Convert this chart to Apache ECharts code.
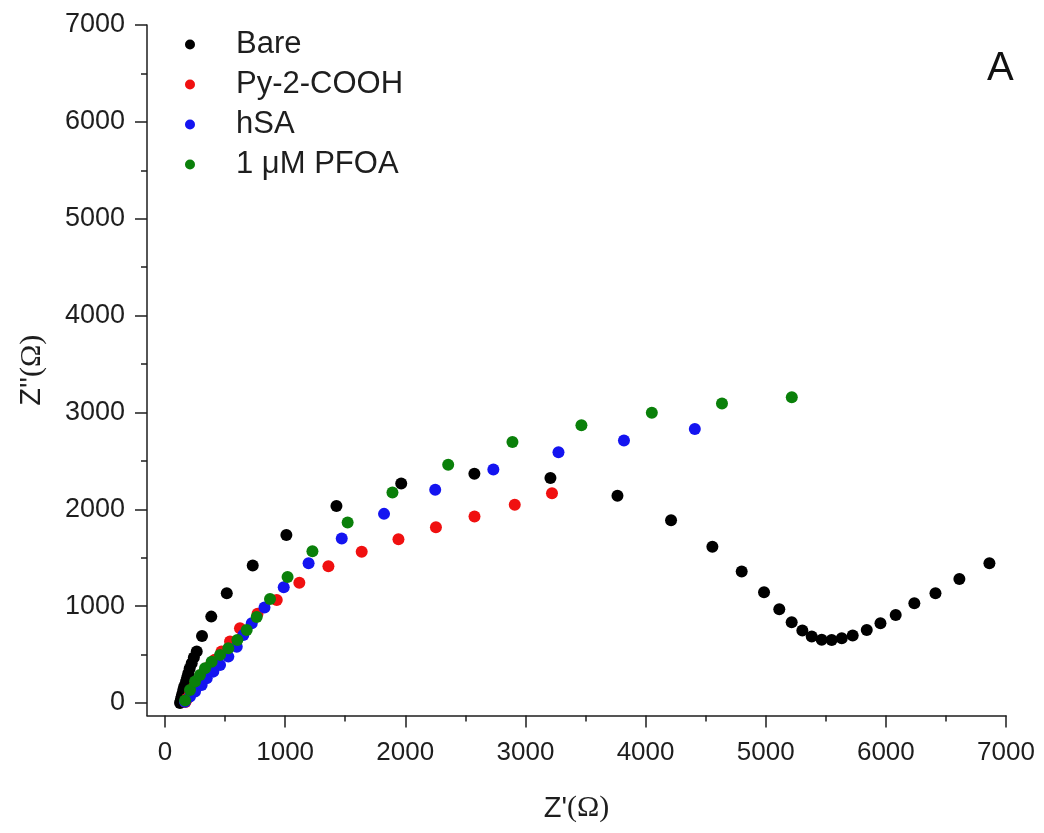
<!DOCTYPE html>
<html>
<head>
<meta charset="utf-8">
<script src="https://cdn.jsdelivr.net/npm/echarts@6/dist/echarts.min.js"></script>
<style>html,body{margin:0;padding:0;background:#fff}#c{width:1044px;height:833px}</style>
</head>
<body>
<div id="c"></div>
<script>
// Z' (x) and Z'' (y) values in ohm
const bareRe = [125,130,135,139,145,152,160,175,185,194,205,222,240,264,308,385,514,730,1010,1427,1966,2575,3208,3766,4212,4556,4800,4986,5113,5216,5305,5383,5466,5549,5633,5724,5841,5955,6082,6237,6413,6612,6862];
const bareIm = [0,20,45,65,95,134,170,220,265,307,355,410,470,530,692,891,1133,1420,1735,2033,2265,2367,2322,2140,1885,1612,1356,1143,967,833,747,685,652,650,668,695,754,823,908,1029,1132,1280,1442];

const pyRe = [170,185,210,240,280,320,365,415,470,541,624,770,930,1118,1360,1637,1943,2255,2576,2911,3221];
const pyIm = [10,45,100,160,230,300,370,445,530,633,771,920,1063,1240,1410,1560,1690,1814,1924,2045,2165];

const hsaRe = [167,208,250,305,347,402,458,527,597,652,722,828,988,1195,1471,1823,2249,2733,3275,3820,4410];
const hsaIm = [13,65,117,186,255,323,392,478,581,702,823,985,1194,1442,1697,1952,2200,2410,2588,2709,2829];

const pfoaRe = [167,208,250,291,333,388,458,527,602,680,763,874,1020,1227,1520,1893,2357,2892,3466,4052,4636,5217];
const pfoaIm = [25,134,220,289,358,426,496,565,650,754,888,1072,1300,1566,1862,2172,2460,2695,2866,2997,3091,3156];

const seriesNames = ['Bare', 'Py-2-COOH', 'hSA', '1 \u03bcM PFOA'];
const seriesColors = ['#000000', '#f01010', '#1414f0', '#0a800a'];

const zip = (a, b) => a.map((v, i) => [v, b[i]]);
const allData = [zip(bareRe, bareIm), zip(pyRe, pyIm), zip(hsaRe, hsaIm), zip(pfoaRe, pfoaIm)];

const font = 'Liberation Sans, Arial, sans-serif';
const ink = '#1e1e1e';
const plain = v => String(v);

const chart = echarts.init(document.getElementById('c'));
chart.setOption({
  animation: false,
  backgroundColor: '#fff',
  title: {
    text: 'A', left: 982, top: 44,
    textStyle: {fontFamily: font, fontSize: 40, fontWeight: 'normal', color: '#111'}
  },
  legend: {
    orient: 'vertical', left: 185, top: 29, padding: 0,
    itemWidth: 10, itemHeight: 10, itemGap: 9, icon: 'circle',
    data: seriesNames,
    textStyle: {fontFamily: font, fontSize: 31, color: ink, lineHeight: 30, padding: [0, 0, 0, 36]}
  },
  grid: [
    {left: 147, right: 38, top: 25, bottom: 117.5, containLabel: false},
    {left: 165, right: 38, top: 25, bottom: 130, containLabel: false}
  ],
  xAxis: [
    {
      type: 'value', gridIndex: 0, min: -150, max: 7000,
      axisLine: {show: true, onZero: false, lineStyle: {color: ink, width: 1.5}},
      axisTick: {show: false}, axisLabel: {show: false}, splitLine: {show: false},
      name: "{a|Z'}{b|(\u03a9)}", nameLocation: 'middle', nameGap: 78,
      nameTextStyle: {
        rich: {
          a: {fontFamily: font, fontSize: 29, color: ink},
          b: {fontFamily: 'Liberation Serif, Times New Roman, serif', fontSize: 30, color: ink}
        }
      }
    },
    {
      type: 'value', gridIndex: 1, min: 0, max: 7000, interval: 1000, offset: 12.5,
      axisLine: {show: false, onZero: false},
      axisTick: {show: true, length: 12, lineStyle: {color: ink, width: 1.5}},
      minorTick: {show: true, splitNumber: 2, length: 6, lineStyle: {color: ink, width: 1.5}},
      axisLabel: {fontFamily: font, fontSize: 26, color: ink, margin: 24, formatter: plain},
      splitLine: {show: false}
    }
  ],
  yAxis: [
    {
      type: 'value', gridIndex: 0, min: -130, max: 7000,
      axisLine: {show: true, onZero: false, lineStyle: {color: ink, width: 1.5}},
      axisTick: {show: false}, axisLabel: {show: false}, splitLine: {show: false},
      name: "{a|Z''}{b|(\u03a9)}", nameLocation: 'middle', nameGap: 100, nameRotate: 90,
      nameTextStyle: {
        rich: {
          a: {fontFamily: font, fontSize: 29, color: ink},
          b: {fontFamily: 'Liberation Serif, Times New Roman, serif', fontSize: 30, color: ink}
        }
      }
    },
    {
      type: 'value', gridIndex: 1, min: 0, max: 7000, interval: 1000, offset: 18,
      axisLine: {show: false, onZero: false},
      axisTick: {show: true, length: 12, lineStyle: {color: ink, width: 1.5}},
      minorTick: {show: true, splitNumber: 2, length: 6, lineStyle: {color: ink, width: 1.5}},
      axisLabel: {fontFamily: font, fontSize: 27, color: ink, margin: 22, formatter: plain},
      splitLine: {show: false}
    }
  ],
  series: seriesNames.map((name, i) => ({
    name: name, type: 'scatter', xAxisIndex: 0, yAxisIndex: 0,
    symbol: 'circle', symbolSize: 12,
    itemStyle: {color: seriesColors[i], opacity: 1},
    data: allData[i]
  }))
});
</script>
</body>
</html>
